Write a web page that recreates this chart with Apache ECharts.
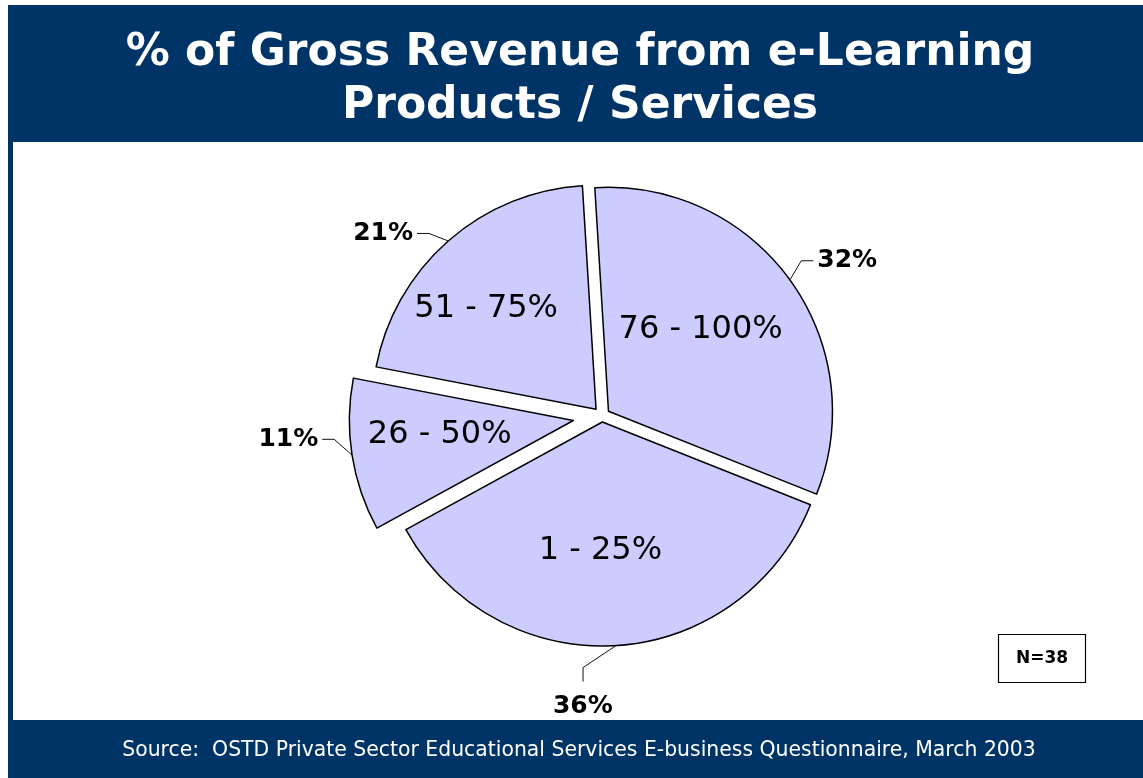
<!DOCTYPE html>
<html>
<head>
<meta charset="utf-8">
<script src="https://cdn.jsdelivr.net/npm/echarts@6/dist/echarts.min.js"></script>
<style>
  html, body { margin: 0; padding: 0; background: #ffffff; }
  #frame { position: absolute; left: 8px; top: 5px; width: 1135px; height: 773px; background: #003366; }
  #panel { position: absolute; left: 13px; top: 142px; width: 1130px; height: 578px; background: #ffffff; }
  #chart { position: absolute; left: 0; top: 0; width: 1143px; height: 778px; }
</style>
</head>
<body>
<div id="frame"></div>
<div id="panel"></div>
<div id="chart"></div>
<script>
// Revenue bands, listed clockwise from twelve o'clock
const categories = ['76 - 100%', '1 - 25%', '26 - 50%', '51 - 75%'];
// Share of respondents in each band (%)
const shares = [32, 36, 11, 21];

const titleText = '% of Gross Revenue from e-Learning\nProducts / Services';
const sourceText = 'Source:  OSTD Private Sector Educational Services E-business Questionnaire, March 2003';
const sampleText = 'N=38';

const FONT = '"DejaVu Sans", Verdana, sans-serif';
const FILL = '#ccccff';

// How far each wedge is pulled away from the centre
const pullOut = [8, 6, 29, 9];
// Small nudges for the band names inside the wedges
const innerNudge = [[-1, -14], [-9, 14], [-20, -4], [-34, -14]];
// Nudges for the percentage labels outside the wedges
const outerNudge = [[0, -11], [-50, 47], [-4, -18], [-10, 3]];

const pieBase = {
  type: 'pie',
  center: [602, 416],
  radius: 224,
  startAngle: 93.5,
  clockwise: true,
  selectedMode: 'multiple',
  avoidLabelOverlap: false,
  animation: false,
  tooltip: { show: false },
  emphasis: { disabled: true }
};

const hiddenItem = {
  itemStyle: { color: 'rgba(0,0,0,0)', borderWidth: 0 },
  label: { show: false },
  labelLine: { show: false }
};

// One series per wedge draws the wedge with its band name inside
function wedgeSeries(i) {
  return Object.assign({}, pieBase, {
    name: categories[i],
    selectedOffset: pullOut[i],
    z: 2,
    labelLayout: () => ({ dx: innerNudge[i][0], dy: innerNudge[i][1] }),
    data: categories.map((name, j) => j !== i
      ? Object.assign({ name, value: shares[j], selected: false }, hiddenItem)
      : {
          name, value: shares[j], selected: true,
          itemStyle: { color: FILL, borderColor: '#000000', borderWidth: 1.5 },
          label: {
            show: true, position: 'inside', formatter: '{b}',
            fontFamily: FONT, fontSize: 32, color: '#000000'
          },
          labelLine: { show: false }
        })
  });
}

// Leader line that follows a nudged label: it keeps its start on the rim
function nudgedLeader(points, i) {
  const [dx, dy] = outerNudge[i];
  const p0 = points[0];
  if (i === 1) {
    // the bottom label sits centred under a short vertical tail
    const tx = p0[0] + dx + 17;
    return [p0, [tx, p0[1] + 22], [tx, p0[1] + 36]];
  }
  return [p0, [points[1][0] + dx, points[1][1] + dy], [points[2][0] + dx, points[2][1] + dy]];
}

// A matching transparent series carries the outside percentage label
function shareSeries(i) {
  return Object.assign({}, pieBase, {
    name: categories[i] + ' share',
    selectedOffset: pullOut[i],
    z: 3,
    labelLayout: (p) => {
      const out = { dx: outerNudge[i][0], dy: outerNudge[i][1] };
      if (i === 1) out.align = 'center';
      if (p.labelLinePoints) out.labelLinePoints = nudgedLeader(p.labelLinePoints, i);
      return out;
    },
    data: categories.map((name, j) => j !== i
      ? Object.assign({ name, value: shares[j], selected: false }, hiddenItem)
      : {
          name, value: shares[j], selected: true,
          itemStyle: { color: 'rgba(0,0,0,0)', borderWidth: 0 },
          label: {
            show: true, position: 'outside', formatter: '{c}%',
            fontFamily: FONT, fontSize: 25, fontWeight: 'bold', color: '#000000',
            distanceToLabelLine: 4
          },
          labelLine: {
            show: true, length: 14, length2: 12,
            lineStyle: { color: '#111111', width: 1 }
          }
        })
  });
}

const series = [];
categories.forEach((c, i) => series.push(wedgeSeries(i)));
categories.forEach((c, i) => series.push(shareSeries(i)));

const chart = echarts.init(document.getElementById('chart'), null, { renderer: 'canvas' });
chart.setOption({
  backgroundColor: 'transparent',
  title: [
    {
      text: titleText,
      left: 575, top: 22, textAlign: 'center',
      textStyle: { fontFamily: FONT, fontSize: 44, fontWeight: 'bold', color: '#ffffff', lineHeight: 53 }
    },
    {
      text: sourceText,
      left: 574, top: 736, textAlign: 'center',
      textStyle: { fontFamily: FONT, fontSize: 20.4, fontWeight: 'normal', color: '#ffffff' }
    },
    {
      text: sampleText,
      left: 998, top: 634,
      padding: [16, 18, 16, 18],
      borderColor: '#000000', borderWidth: 1.2,
      backgroundColor: '#ffffff',
      textStyle: { fontFamily: FONT, fontSize: 17, fontWeight: 'bold', color: '#000000' }
    }
  ],
  series: series
});
</script>
</body>
</html>
